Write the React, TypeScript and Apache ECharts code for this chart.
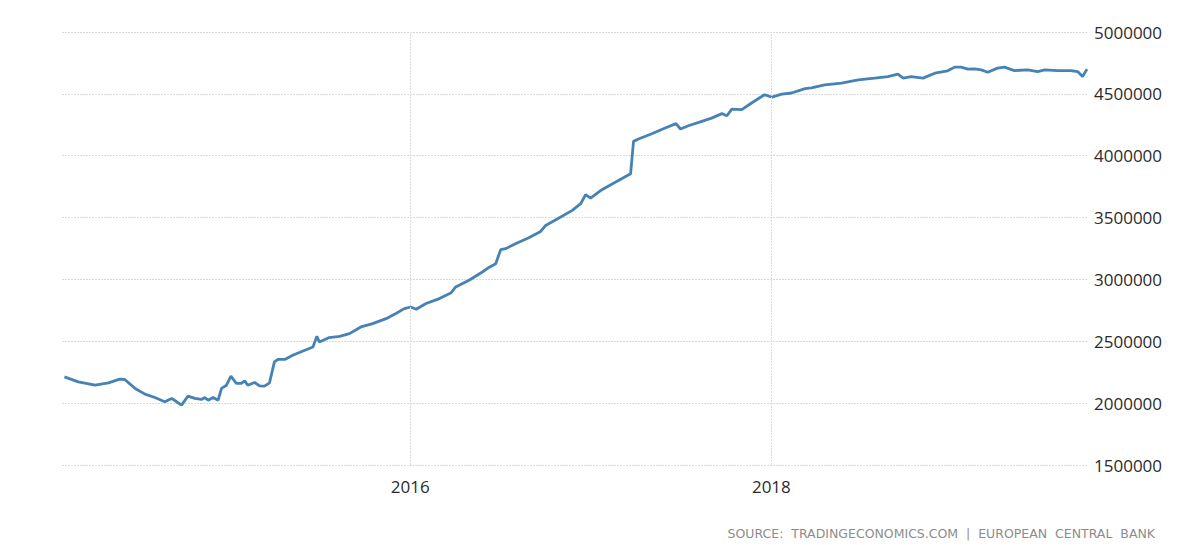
import React, { useEffect, useRef } from "react";
import * as echarts from "echarts";

const dates = [
  "2014-01-31", "2014-02-28", "2014-04-03", "2014-04-30", "2014-05-23", "2014-06-02",
  "2014-06-23", "2014-07-13", "2014-08-02", "2014-08-22", "2014-09-05", "2014-09-15",
  "2014-09-25", "2014-10-08", "2014-10-22", "2014-11-04", "2014-11-11", "2014-11-18",
  "2014-11-28", "2014-12-08", "2014-12-15", "2014-12-25", "2015-01-03", "2015-01-14",
  "2015-01-24", "2015-01-31", "2015-02-06", "2015-02-20", "2015-03-02", "2015-03-12",
  "2015-03-22", "2015-04-01", "2015-04-08", "2015-04-22", "2015-05-08", "2015-05-29",
  "2015-06-18", "2015-06-26", "2015-07-01", "2015-07-21", "2015-08-11", "2015-08-31",
  "2015-09-23", "2015-10-17", "2015-11-13", "2015-12-03", "2015-12-20", "2016-01-02",
  "2016-01-13", "2016-02-02", "2016-02-29", "2016-03-23", "2016-04-02", "2016-04-29",
  "2016-05-26", "2016-06-09", "2016-06-22", "2016-07-02", "2016-07-12", "2016-08-01",
  "2016-08-28", "2016-09-21", "2016-10-01", "2016-10-28", "2016-11-24", "2016-12-11",
  "2016-12-21", "2016-12-31", "2017-01-23", "2017-02-19", "2017-03-22", "2017-03-28",
  "2017-04-07", "2017-05-04", "2017-05-31", "2017-06-22", "2017-07-01", "2017-07-17",
  "2017-08-07", "2017-09-02", "2017-09-23", "2017-10-03", "2017-10-13", "2017-11-02",
  "2017-11-22", "2017-12-18", "2018-01-02", "2018-01-22", "2018-02-11", "2018-03-10",
  "2018-03-23", "2018-04-19", "2018-05-23", "2018-06-26", "2018-07-29", "2018-08-25",
  "2018-09-14", "2018-09-25", "2018-10-11", "2018-11-04", "2018-11-28", "2018-12-24",
  "2019-01-07", "2019-01-20", "2019-02-03", "2019-02-16", "2019-03-02", "2019-03-15",
  "2019-04-04", "2019-04-18", "2019-05-08", "2019-06-04", "2019-06-24", "2019-07-08",
  "2019-08-04", "2019-08-30", "2019-09-13", "2019-09-23", "2019-10-02",
];

const values = [
  2212600, 2172000, 2145500, 2164000, 2194000, 2191000,
  2119000, 2073000, 2046000, 2011000, 2038000, 2011000,
  1984000, 2057000, 2038000, 2030000, 2045000, 2024000,
  2046000, 2024000, 2119000, 2145000, 2218000, 2159000,
  2159000, 2180000, 2145000, 2167000, 2140000, 2137000,
  2164000, 2334000, 2353000, 2353000, 2387000, 2422000,
  2454000, 2540000, 2494000, 2530000, 2540000, 2562000,
  2616000, 2643000, 2683000, 2724000, 2764000, 2777000,
  2759000, 2805000, 2845000, 2890000, 2939000, 2993000,
  3060000, 3099000, 3127000, 3240000, 3248000, 3288000,
  3337000, 3388000, 3436000, 3496000, 3558000, 3612000,
  3685000, 3657000, 3725000, 3786000, 3854000, 4116000,
  4135000, 4178000, 4224000, 4259000, 4216000, 4242000,
  4269000, 4304000, 4340000, 4323000, 4377000, 4372000,
  4426000, 4493000, 4474000, 4498000, 4507000, 4542000,
  4548000, 4573000, 4586000, 4613000, 4627000, 4640000,
  4659000, 4627000, 4640000, 4627000, 4667000, 4686000,
  4716000, 4716000, 4700000, 4702000, 4694000, 4675000,
  4708000, 4716000, 4688000, 4694000, 4680000, 4694000,
  4688000, 4688000, 4680000, 4640000, 4700000,
];

const xTickDates = ["2016-01-01", "2018-01-01"];
const xTickLabels = ["2016", "2018"];
const xRange = ["2014-01-26", "2019-10-04"];
const yRange = [1500000, 5000000];
const yStep = 500000;
const sourceText = "SOURCE:  TRADINGECONOMICS.COM  |  EUROPEAN  CENTRAL  BANK";

function parseDay(s: string): number {
  const [y, m, d] = s.split("-").map(Number);
  return Date.UTC(y, m - 1, d);
}

export default function App() {
  const ref = useRef<HTMLDivElement>(null);
  useEffect(() => {
    if (!ref.current) return;
    const chart = echarts.init(ref.current, undefined, { renderer: "svg" });
    const tickTs = xTickDates.map(parseDay);
    const labelFont = {
      fontFamily: "Open Sans",
      fontSize: 17,
      color: "#2b2b2b",
    };
    const gridLine = { color: "#d9d9d9", type: [2, 1] as number[], width: 1 };
    chart.setOption({
      animation: false,
      backgroundColor: "#ffffff",
      grid: { left: 62, right: 112, top: 32, bottom: 80, containLabel: false },
      xAxis: {
        type: "value",
        min: parseDay(xRange[0]),
        max: parseDay(xRange[1]),
        axisLine: { show: false },
        axisTick: { show: false, customValues: tickTs },
        splitLine: { show: false },
        axisLabel: {
          ...labelFont,
          margin: 13,
          customValues: tickTs,
          formatter: (v: number) => {
            const i = tickTs.findIndex((t) => Math.abs(t - v) < 86400000);
            return i >= 0 ? xTickLabels[i] : "";
          },
        },
      },
      yAxis: {
        type: "value",
        position: "right",
        min: yRange[0],
        max: yRange[1],
        interval: yStep,
        axisLine: { show: false },
        axisTick: { show: false },
        splitLine: { show: true, lineStyle: gridLine },
        axisLabel: {
          ...labelFont,
          margin: 6,
          formatter: (v: number) => String(v),
        },
      },
      series: [
        {
          type: "line",
          data: dates.map((d, i) => [parseDay(d), values[i]]),
          showSymbol: false,
          symbol: "none",
          lineStyle: { color: "#4682b4", width: 2.8 },
          itemStyle: { color: "#4682b4" },
          markLine: {
            silent: true,
            symbol: "none",
            label: { show: false },
            lineStyle: gridLine,
            data: tickTs.map((t) => ({ xAxis: t })),
          },
        },
      ],
      graphic: [
        {
          type: "text",
          right: 45,
          top: 527,
          style: {
            text: sourceText,
            fontFamily: "DejaVu Sans",
            fontSize: 12.5,
            fill: "#8c8c8c",
          },
        },
      ],
    });
    return () => chart.dispose();
  }, []);
  return (
    <div
      ref={ref}
      style={{ position: "fixed", left: 0, top: 0, width: 1200, height: 545 }}
    />
  );
}
